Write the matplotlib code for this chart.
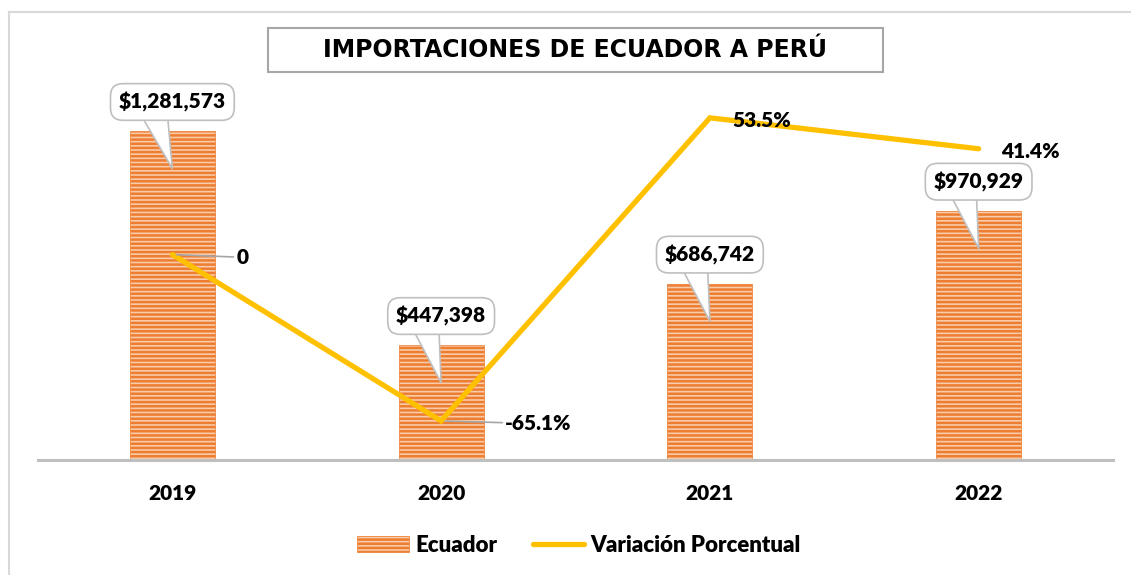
import matplotlib
matplotlib.use('Agg')
import matplotlib.pyplot as plt
from matplotlib.text import OffsetFrom
from matplotlib.lines import Line2D
from matplotlib.patches import Rectangle

# fonts and hatch look
plt.rcParams['font.family'] = ['Lato', 'DejaVu Sans']
plt.rcParams['hatch.linewidth'] = 1.8

# data
years = ['2019', '2020', '2021', '2022']
importaciones = [1281573, 447398, 686742, 970929]
variacion = [0.0, -0.651, 0.535, 0.414]
etiquetas_var = ['0', '-65.1%', '53.5%', '41.4%']

orange = '#ED7D31'
yellow = '#FFC000'
grey = '#BFBFBF'

fig = plt.figure(figsize=(11.31, 5.75), dpi=100)
ax = fig.add_axes([0.0336, 0.2, 0.9505, 0.7304])

x = list(range(len(years)))
bars = ax.bar(x, importaciones, width=0.316, color='#F9CBA8', edgecolor=orange,
              linewidth=0.5, hatch='----', label='Ecuador', zorder=2)
ax.set_xlim(-0.5, 3.5)
ax.set_ylim(0, 1636700)
ax.set_yticks([])
ax.set_xticks(x)
ax.set_xticklabels(years, fontsize=15, fontweight='heavy')
ax.tick_params(axis='x', length=0, pad=17)
for s in ['left', 'right', 'top']:
    ax.spines[s].set_visible(False)
ax.spines['bottom'].set_color(grey)
ax.spines['bottom'].set_linewidth(2.2)

# percentage line on a second axis
ax2 = ax.twinx()
ax2.set_ylim(-0.804, 0.8395)
ax2.set_yticks([])
for s in ax2.spines.values():
    s.set_visible(False)
line, = ax2.plot(x, variacion, color=yellow, lw=3.8, solid_capstyle='round',
                 solid_joinstyle='miter', label='Variación Porcentual')

# callout labels for the bars
for rect, val in zip(bars, importaciones):
    ax.annotate(f'${val:,}', xy=(0, -27),
                xycoords=OffsetFrom(rect, (0.5, 1.0), unit='points'),
                xytext=(0, 48), textcoords='offset points',
                ha='center', va='center', fontsize=15, fontweight='heavy',
                bbox=dict(boxstyle='round,pad=0.4,rounding_size=0.6',
                          fc='white', ec=grey, lw=1.2),
                arrowprops=dict(arrowstyle='wedge,tail_width=1.5,shrink_factor=0.5',
                                fc='white', ec=grey, lw=1.2, relpos=(0.3, 0.5),
                                shrinkA=0, shrinkB=0, patchA=None),
                zorder=5)

# labels for the line
offsets = [(46, -2), (46, -2), (16.5, -2), (16.5, -2)]
leaders = [True, True, False, False]
for xi, v, lab, off, lead in zip(x, variacion, etiquetas_var, offsets, leaders):
    ap = dict(arrowstyle='-', color='#A6A6A6', lw=1.2, shrinkA=0, shrinkB=3) if lead else None
    ax2.annotate(lab, xy=(xi, v), xytext=off, textcoords='offset points',
                 ha='left', va='center', fontsize=15, fontweight='heavy',
                 arrowprops=ap)

# title in a frame
fig.add_artist(Rectangle((268 / 1131, 1 - 72 / 575), 615 / 1131, 44 / 575,
                         transform=fig.transFigure, fc='white', ec='#A6A6A6', lw=1.5))
fig.text(0.5088, 1 - 50 / 575, 'IMPORTACIONES DE ECUADOR A PERÚ', ha='center', va='center',
         fontsize=17, fontweight='bold', family=['DejaVu Sans'])

# outer chart border (partly cropped)
fig.add_artist(Line2D([9 / 1131, 1], [1 - 12 / 575, 1 - 12 / 575], transform=fig.transFigure,
                      color='#D9D9D9', lw=1.5))
fig.add_artist(Line2D([9 / 1131, 9 / 1131], [0, 1 - 12 / 575], transform=fig.transFigure,
                      color='#D9D9D9', lw=1.5))

fig.legend(handles=[bars, line], loc='center', bbox_to_anchor=(0.512, 0.052), ncol=2,
           frameon=False, prop=dict(size=16, weight='heavy'), handlelength=2.3,
           columnspacing=1.6, handletextpad=0.3)

fig.savefig('out.png', dpi=100)
